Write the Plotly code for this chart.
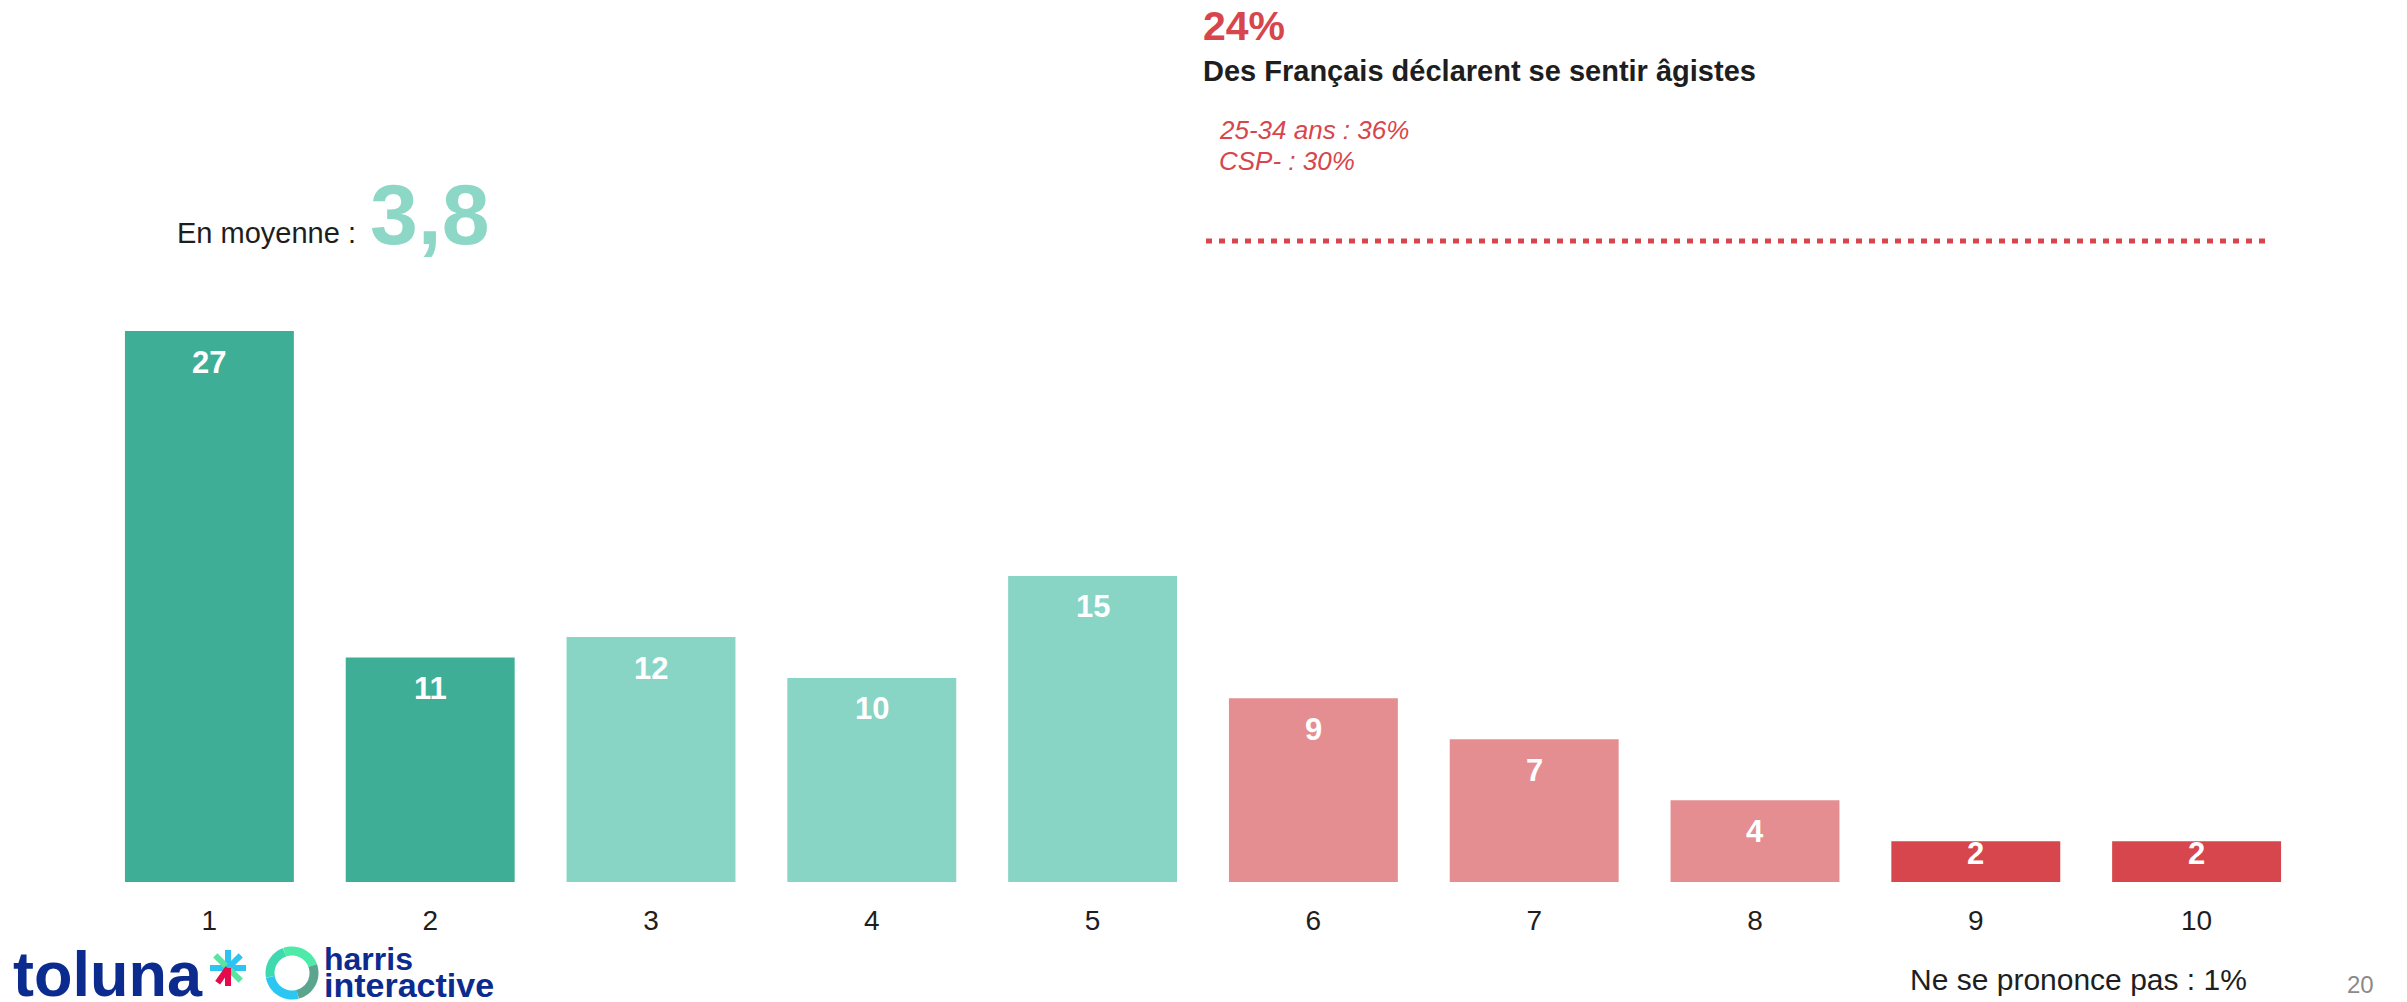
import math
import plotly.graph_objects as go

# --- data -------------------------------------------------------------------
scores = ["1", "2", "3", "4", "5", "6", "7", "8", "9", "10"]
percents = [27, 11, 12, 10, 15, 9, 7, 4, 2, 2]
moyenne = "3,8"
agistes_pct = "24%"
agistes_label = "Des Français déclarent se sentir âgistes"
sous_groupes = ["25-34 ans : 36%", "CSP- : 30%"]
nsp_label = "Ne se prononce pas : 1%"
page_num = "20"

# --- style ------------------------------------------------------------------
TEAL_DARK = "#3EAE96"
TEAL_LIGHT = "#88D4C5"
PINK = "#E58E91"
RED = "#D7464C"
INK = "#1E1E1E"
NAVY = "#0B2B8F"
FONT = "Liberation Sans, Arial, sans-serif"

bar_colors = [TEAL_DARK] * 2 + [TEAL_LIGHT] * 3 + [PINK] * 3 + [RED] * 2

OFF = 8  # default body margin of the html page
W, H = 2407 - OFF, 1002 - OFF
M_L, M_R, M_T, M_B = 99 - OFF, 100, 331 - OFF, 120
PW, PH = W - M_L - M_R, H - M_T - M_B
Y_MAX = 27


def px(x, y):
    """page pixel position -> paper coordinates"""
    x, y = x - OFF, y - OFF
    return (x - M_L) / PW, (H - M_B - y) / PH


fig = go.Figure(go.Bar(
    x=scores, y=percents,
    marker=dict(color=bar_colors, line_width=0),
    width=0.765,
    hoverinfo="skip",
))

annotations = []

# value labels inside the bars, near the top
px_per_unit = PH / Y_MAX
for i, v in enumerate(percents):
    h = v * px_per_unit
    annotations.append(dict(
        x=i, y=v, xref="x", yref="y",
        text=f"<b>{v}</b>", showarrow=False,
        yanchor="middle", yshift=-min(31, h / 2 - 8),
        font=dict(size=31, color="white", family=FONT),
    ))


def note(x, y, text, size, color, xanchor="left", yanchor="middle"):
    ax, ay = px(x, y)
    annotations.append(dict(
        x=ax, y=ay, xref="paper", yref="paper", text=text, showarrow=False,
        xanchor=xanchor, yanchor=yanchor,
        font=dict(size=size, color=color, family=FONT),
    ))


note(175, 233, "En moyenne :", 29, INK)
note(368, 214, f"<b>{moyenne}</b>", 86, "#8DD7C7")
note(1201, 1, f"<b>{agistes_pct}</b>", 41, RED, yanchor="top")
note(1201, 71, f"<b>{agistes_label}</b>", 29, INK)
for i, g in enumerate(sous_groupes):
    note(1217, 130 + i * 31, f"<i>{g}</i>", 26, RED)
note(1908, 979, nsp_label, 30, INK)
note(2345, 984, page_num, 24, "#8A8A8A")

# logo: toluna* + harris interactive
note(11, 974, "<b>toluna</b>", 63, NAVY)
note(322, 959, "<b>harris</b>", 32, NAVY)
note(322, 985, "<b>interactive</b>", 34, NAVY)

shapes = []
x0, y0 = px(1206, 241)
x1, _ = px(2268, 241)
shapes.append(dict(type="line", xref="paper", yref="paper", x0=x0, y0=y0, x1=x1, y1=y0,
                   line=dict(color=RED, width=5, dash="6px,7px")))

# asterisk
cx, cy = 228, 968
spokes = [(90, "#2EC4F1"), (0, "#2EC4F1"), (180, "#2EC4F1"), (135, "#5BE3A2"),
          (-45, "#5BE3A2"), (45, "#2EC4F1"), (-90, "#E6094B"), (-125, "#E6094B")]
for ang, col in spokes:
    a = math.radians(ang)
    ex, ey = px(cx + 18 * math.cos(a), cy - 18 * math.sin(a))
    sx, sy = px(cx, cy)
    shapes.append(dict(type="line", xref="paper", yref="paper", x0=sx, y0=sy, x1=ex, y1=ey,
                       line=dict(color=col, width=6)))

# ring
rcx, rcy, rr = 292, 973, 22
arcs = [(20, 110, "#4EEAA7"), (110, 190, "#3FD9B0"), (190, 285, "#2CC6F2"), (-75, 20, "#5BA58F")]
for a0, a1, col in arcs:
    pts = []
    for k in range(25):
        a = math.radians(a0 + (a1 - a0) * k / 24)
        pts.append(px(rcx + rr * math.cos(a), rcy - rr * math.sin(a)))
    path = "M " + " L ".join(f"{p[0]:.5f},{p[1]:.5f}" for p in pts)
    shapes.append(dict(type="path", xref="paper", yref="paper", path=path,
                       line=dict(color=col, width=9)))

fig.update_layout(
    width=W, height=H,
    margin=dict(l=M_L, r=M_R, t=M_T, b=M_B),
    paper_bgcolor="white", plot_bgcolor="white",
    showlegend=False,
    font=dict(family=FONT, color=INK),
    xaxis=dict(type="category", range=[-0.5, 9.5], showgrid=False, zeroline=False,
               showline=False, ticks="", tickfont=dict(size=28, color=INK),
               ticklabelstandoff=19),
    yaxis=dict(range=[0, Y_MAX], visible=False),
    annotations=annotations,
    shapes=shapes,
)

fig.write_html("out.html")
